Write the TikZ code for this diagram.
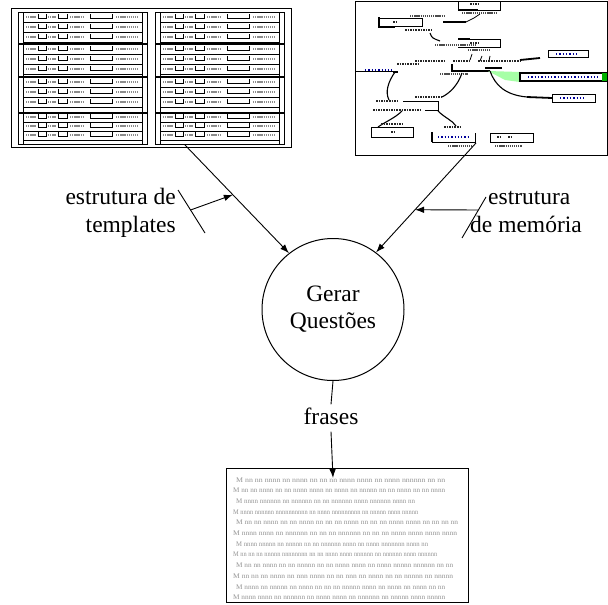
\documentclass[tikz,border=0pt]{standalone}
\usepackage{fontspec}
\setmainfont{Liberation Serif}
\usepackage{graphicx}
\usetikzlibrary{arrows.meta,calc}
\begin{document}
\begin{tikzpicture}[x=1pt,y=-1pt,
  flow/.style={-{Latex[length=9pt,width=6.5pt]}, line width=0.9pt},
  lbl/.style={font=\fontsize{23.5}{27}\selectfont, inner sep=0pt},
  scribble/.style={line width=1.4pt, dash pattern=on 1.3pt off 0.8pt, black!45},
  darkscribble/.style={line width=1.6pt, dash pattern=on 1.6pt off 1pt, black!85},
  bluescribble/.style={line width=1.5pt, dash pattern=on 1.3pt off 2pt, blue!60!black},
  frameline/.style={line width=0.9pt},
  thinline/.style={line width=0.8pt},
  doctext/.style={font=\fontsize{7}{8}\selectfont, text=black!42, inner sep=0pt, anchor=base west}]
\useasboundingbox (0,0) rectangle (608,605);
\fill[white] (0,0) rectangle (608,605);

% ---------- template structure (two columns of template rows) ----------
\draw[frameline] (11,8) rectangle (291,147);
\foreach \cx in {0,137} {
  \draw[thinline] ({18+\cx},12) rectangle ({147+\cx},144);
  \draw[thinline] ({23+\cx},12) -- ({23+\cx},144) ({142+\cx},12) -- ({142+\cx},144);
  \foreach \gy in {77,113} \draw[line width=1.2pt] ({18+\cx},\gy) -- ({147+\cx},\gy);
  \draw[line width=2.6pt] ({18+\cx},44) -- ({147+\cx},44);
  \foreach \ry in {17,27,37,49,59,69,82,92,102,117,126,135} {
    \draw[thinline] ({23+\cx},{\ry+5}) -- ({142+\cx},{\ry+5});
    \draw[scribble] ({26+\cx},\ry) -- ({36+\cx},\ry);
    \draw[thinline] ({38+\cx},{\ry-3}) -- ++(0,4) -- ++(8,0) -- ++(0,-4);
    \draw[scribble] ({48+\cx},\ry) -- ({56+\cx},\ry);
    \draw[thinline] ({58+\cx},{\ry-3}) -- ++(0,4) -- ++(9,0) -- ++(0,-4);
    \draw[scribble] ({70+\cx},\ry) -- ({83+\cx},\ry);
    \draw[thinline] ({90+\cx},{\ry-3}) -- ++(0,4) -- ++(22,0) -- ++(0,-4);
    \draw[scribble] ({116+\cx},\ry) -- ({139+\cx},\ry);
  }
}

% ---------- memory structure (tree of linked boxes) ----------
\draw[frameline] (355,1) rectangle (607,155);
\draw[thinline] (458,1) -- (458,10) -- (500,10) -- (500,1);
\draw[line width=1.6pt] (458,10) -- (478,10);
\draw[darkscribble] (470,4) -- (480,4);
\draw[scribble,black!70] (462,13) -- (497,13);
\draw[thinline] (379,18) rectangle (422,26);
\draw[line width=1.8pt] (379,17) -- (379,27) -- (395,27);
\draw[darkscribble] (393,22) -- (396,22);
\draw[scribble,black!70] (410,16) -- (445,16);
\draw[line width=1.6pt] (443,22) -- (466,22);
\draw[thinline] (466,22) -- (474,18) -- (480,14);
\draw[darkscribble] (405,30) -- (432,30);
\draw[line width=1.1pt] (430,33) .. controls (432,38) .. (440,41);
\draw[thinline] (458,39) -- (500,39) -- (500,47) -- (458,47);
\draw[line width=1.6pt] (458,39) -- (470,39);
\draw[darkscribble] (470,43) -- (480,43);
\draw[scribble,black!70] (435,45) -- (475,45);
\draw[scribble,black!70] (468,50) -- (490,50);
\draw[thinline] (472,54) -- (470,60) (482,56) -- (480,61) (490,56) -- (489,61);
\draw[darkscribble] (415,61) -- (445,61);
\draw[darkscribble] (453,61) -- (470,61);
\draw[darkscribble] (478,61) -- (520,61);
\draw[line width=1.8pt] (520,60) -- (540,58);
\draw[thinline] (548,50) rectangle (588,57);
\draw[bluescribble] (556,54) -- (578,54);
\draw[thinline] (355,71) -- (396,71);
\draw[bluescribble] (365,70) -- (392,70);
\draw[line width=2pt] (393,72) -- (398,72);
\draw[darkscribble] (397,64) -- (418,64);
\draw[line width=1.1pt] (452,64) -- (452,71) -- (490,71);
\draw[line width=1.8pt] (485,68) -- (502,68);
\draw[scribble,black!70] (440,74) -- (468,74);
\fill[green!35] (488,71) -- (520,72) -- (520,82) -- (505,80) -- cycle;
\draw[line width=1.1pt] (520,73) rectangle (607,81);
\fill[green!70!black] (602,73) rectangle (607,81);
\draw[bluescribble] (528,77) -- (598,77);
\draw[line width=1.8pt] (520,73) -- (520,81);
\draw[line width=1.1pt] (490,71) .. controls (495,85) and (505,95) .. (527,97);
\draw[line width=1.8pt] (527,97) -- (552,98);
\draw[thinline] (552,94) rectangle (595,102);
\draw[bluescribble] (560,98) -- (585,98);
\draw[line width=1.1pt] (462,73) .. controls (458,85) and (450,93) .. (442,97);
\draw[darkscribble] (415,97) -- (442,97);
\draw[line width=1.1pt] (395,72) .. controls (388,82) and (385,92) .. (389,100);
\draw[darkscribble] (376,101) -- (398,101);
\draw[thinline] (403,101) -- (438,101) -- (438,110) -- (425,110);
\draw[darkscribble] (373,110) -- (420,110);
\draw[line width=1.1pt] (402,111) .. controls (395,118) and (385,122) .. (378,127);
\draw[darkscribble] (381,124) -- (403,124);
\draw[thinline] (371,127) rectangle (413,137);
\draw[darkscribble] (391,132) -- (394,132);
\draw[line width=1.1pt] (438,111) .. controls (445,118) and (452,120) .. (456,126);
\draw[darkscribble] (444,127) -- (461,127);
\draw[thinline] (432,132) -- (432,142) -- (475,142) -- (475,133);
\draw[line width=1.8pt] (432,132) -- (432,142);
\draw[bluescribble] (438,137) -- (468,137);
\draw[scribble,black!70] (448,146) -- (472,146);
\draw[thinline] (490,133) rectangle (533,142);
\draw[darkscribble] (497,137) -- (500,137) (508,137) -- (511,137);
\draw[scribble,black!70] (495,146) -- (522,146);

% ---------- process ----------
\node[circle, draw, line width=1pt, minimum size=142pt, inner sep=0pt, align=center,
      font=\fontsize{23.5}{27}\selectfont] (gq) at (333,309.5) {Gerar\\Questões};

% inputs
\coordinate (tplout) at (185,145);
\coordinate (memout) at (476,143);
\draw[flow] (tplout) -- (gq.128);
\draw[flow] (memout) -- (gq.53);

% label: template structure
\node[lbl, anchor=base east] (lt1) at (176,204) {estrutura de};
\node[lbl, anchor=base east] (lt2) at (176,232) {templates};
\coordinate (tk1a) at (178,190);
\coordinate (tk1b) at (205,233);
\draw[line width=0.9pt] (tk1a) -- (tk1b);
\draw[flow] ($(tk1a)!0.465!(tk1b)$) -- ($(tplout)!0.46!(gq.128)$);

% label: memory structure
\node[lbl, anchor=base west] (lm1) at (488,204) {estrutura};
\node[lbl, anchor=base west] (lm2) at (470,232) {de memória};
\coordinate (tk2a) at (486,197);
\coordinate (tk2b) at (462,238);
\draw[line width=0.9pt] (tk2a) -- (tk2b);
\draw[flow] ($(tk2a)!0.317!(tk2b)$) -- ($(memout)!0.61!(gq.53)$);

% output
\node[lbl] (fr) at (331,416) {frases};
\node[draw, line width=1pt, minimum width=242pt, minimum height=134pt, inner sep=0pt,
      anchor=north west] (doc) at (226,468) {};
\coordinate (docin) at (333,478);
\draw[line width=0.9pt] (gq.south) -- ([yshift=3pt]fr.north);
\draw[flow] ([yshift=-7pt]fr.south) -- (docin);

% generated sentences
\foreach \k/\x/\w/\t in {
  0/236/209/{M nn nn nnnn nn nnnn nn nn nn nnnn nnnn nn nnnn nnnnnn nn nn},
  1/233/212/{M nn nn nnnn nn nn nnnn nnnn nn nnnn nn nnnnn nn nn nnnn nn nn nnnn},
  2/236/179/{M nnnn nnnnnn nn nnnnnn nn nn nnnnnn nnnn nnnnnn nnnn nn},
  3/233/185/{M nnnn nnnnnn nnnnnnnnnn nn nnnn nnnnnnnnn nn nnnnn nnnn nnnnn},
  4/236/222/{M nn nn nnnn nn nn nnnn nn nn nn nnnn nn nn nn nnnn nnnn nn nn nn nn},
  5/233/224/{M nnnn nnnn nn nnnnnn nn nn nn nnnnnn nn nn nn nnnn nnnn nnnn nnnn},
  6/236/192/{M nnnn nnnnn nn nnnnn nn nn nnnnnn nnnn nn nnnn nnnnnnn nnnn nn},
  7/233/204/{M nn nn nn nnnnn nnnnnnnn nn nn nnnn nnnn nnnnnn nn nnnnnn nnnn nnnnnn},
  8/236/217/{M nn nn nnnn nn nn nnnnn nn nn nnnn nnnn nn nnnn nnnnn nnnnnn nn nn},
  9/233/220/{M nn nn nn nnnn nn nnn nnnn nn nn nnn nn nnnn nn nn nnnnn nn nnnnn},
  10/236/209/{M nnnn nn nnnnn nn nnnn nn nn nn nnnnn nnnn nn nnnn nn nnnn nn nn},
  11/233/212/{M nnnn nnnn nn nnnnnn nn nnnn nnnn nn nnnnnn nn nnnnn nnnn nnnnn}} {
  \node[doctext] (s\k) at (\x,{482+10.7*\k}) {\resizebox{\w pt}{\height}{\t}};
}
\end{tikzpicture}
\end{document}
